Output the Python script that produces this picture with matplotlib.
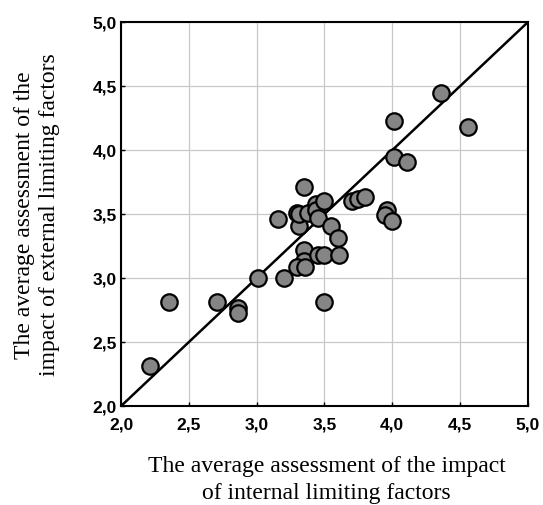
import matplotlib
matplotlib.use('Agg')
import matplotlib.pyplot as plt

# average assessments
internal = [2.21, 2.35, 2.71, 2.86, 2.86, 3.01, 3.20, 3.16,
            3.30, 3.31, 3.31, 3.38, 3.35, 3.44, 3.44, 3.50, 3.455,
            3.55, 3.60, 3.35, 3.35, 3.455, 3.50, 3.61, 3.30, 3.36,
            3.50, 3.70, 3.75, 3.80, 3.96, 3.95, 4.00,
            4.01, 4.11, 4.01, 4.36, 4.56]
external = [2.31, 2.815, 2.815, 2.77, 2.725, 3.00, 3.00, 3.46,
            3.505, 3.41, 3.50, 3.505, 3.71, 3.58, 3.53, 3.60, 3.47,
            3.41, 3.315, 3.22, 3.13, 3.18, 3.18, 3.18, 3.09, 3.09,
            2.815, 3.60, 3.62, 3.635, 3.53, 3.49, 3.45,
            3.95, 3.91, 4.23, 4.45, 4.18]

ticks = [2.0, 2.5, 3.0, 3.5, 4.0, 4.5, 5.0]
tick_labels = ['2,0', '2,5', '3,0', '3,5', '4,0', '4,5', '5,0']
diagonal = [2.0, 5.0]

fig = plt.figure(figsize=(5.43, 5.05), dpi=100)
ax = fig.add_axes([0.223, 0.196, 0.749, 0.760])

ax.plot(diagonal, diagonal, color='black', linewidth=1.8, zorder=2)
ax.scatter(internal, external, s=140, color='#858585', edgecolors='black',
           linewidths=1.6, zorder=3)

ax.set_xlim(2.0, 5.0)
ax.set_ylim(2.0, 5.0)
ax.set_xticks(ticks)
ax.set_yticks(ticks)
ax.set_xticklabels(tick_labels, fontfamily='Liberation Sans',
                   fontweight='bold', fontsize=12.5)
ax.set_yticklabels(tick_labels, fontfamily='Liberation Sans',
                   fontweight='bold', fontsize=12.5)
ax.tick_params(axis='x', direction='in', length=3, width=1, pad=8)
ax.tick_params(axis='y', direction='in', length=3, width=1, pad=3)
ax.grid(True, color='#c8c8c8', linewidth=0.9)
ax.set_axisbelow(True)
for spine in ax.spines.values():
    spine.set_linewidth(1.5)

ax.set_xlabel('The average assessment of the impact\nof internal limiting factors',
              fontfamily='Liberation Serif', fontsize=17, va='center',
              linespacing=1.35)
ax.xaxis.set_label_coords(0.505, -0.193)
ax.set_ylabel('The average assessment of the\nimpact of external limiting factors',
              fontfamily='Liberation Serif', fontsize=17, va='center',
              linespacing=1.25)
ax.yaxis.set_label_coords(-0.206, 0.498)

fig.savefig('out.png', dpi=100)
